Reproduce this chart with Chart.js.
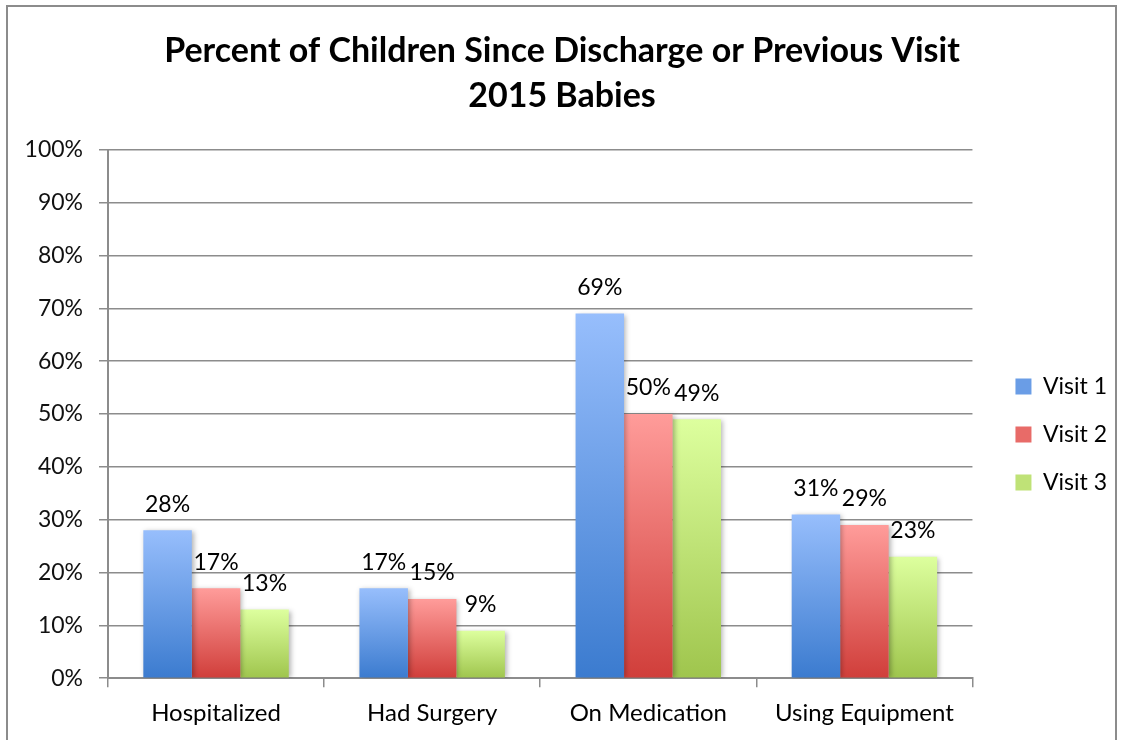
<!DOCTYPE html>
<html>
<head>
<meta charset="utf-8">
<script src="https://cdn.jsdelivr.net/npm/chart.js@4.4.1/dist/chart.umd.min.js"></script>
<style>
  body { margin: 0; background: #fff; }
  #wrap { position: relative; width: 1121px; height: 740px; overflow: hidden; }
  #frame { position: absolute; left: 6px; top: 5px; width: 1111px; height: 800px; border: 2px solid #8c8c8c; box-sizing: border-box; }
  canvas { position: absolute; left: 0; top: 0; }
</style>
</head>
<body>
<div id="wrap">
  <div id="frame"></div>
  <canvas id="visitChart" width="1121" height="740"></canvas>
</div>
<script>
const categories = ['Hospitalized', 'Had Surgery', 'On Medication', 'Using Equipment'];
const visitNames = ['Visit 1', 'Visit 2', 'Visit 3'];
const visit1 = [28, 17, 69, 31];
const visit2 = [17, 15, 50, 29];
const visit3 = [13, 9, 49, 23];
const titleLines = ['Percent of Children Since Discharge or Previous Visit', '2015 Babies'];

// light top -> dark bottom for each series
const shades = [
  { top: '#97befc', bottom: '#3b7bcf', solid: '#6a9de6' },
  { top: '#ff9c9a', bottom: '#d03e3a', solid: '#e86b68' },
  { top: '#ddff9e', bottom: '#9fc54d', solid: '#bfe277' }
];

const FONT = 'Lato, "Open Sans", sans-serif';

function barGradient(i) {
  return function (context) {
    const chart = context.chart;
    const { ctx, chartArea, scales } = chart;
    if (!chartArea || context.raw == null) return shades[i].solid;
    const yTop = scales.y.getPixelForValue(context.raw);
    const yBase = scales.y.getPixelForValue(0);
    if (!isFinite(yTop) || yTop === yBase) return shades[i].solid;
    const g = ctx.createLinearGradient(0, yTop, 0, yBase);
    g.addColorStop(0, shades[i].top);
    g.addColorStop(1, shades[i].bottom);
    return g;
  };
}

// soft drop shadow under the bars
const barShadow = {
  id: 'barShadow',
  beforeDatasetsDraw(chart) {
    const ctx = chart.ctx;
    ctx.save();
    ctx.shadowColor = 'rgba(0,0,0,0.3)';
    ctx.shadowBlur = 5;
    ctx.shadowOffsetX = 2;
    ctx.shadowOffsetY = 1;
  },
  afterDatasetsDraw(chart) {
    chart.ctx.restore();
  }
};

// percent labels above each bar
const valueLabels = {
  id: 'valueLabels',
  afterDatasetsDraw(chart) {
    const ctx = chart.ctx;
    ctx.save();
    ctx.font = '23px ' + FONT;
    ctx.fillStyle = '#000';
    ctx.textAlign = 'center';
    ctx.textBaseline = 'middle';
    chart.data.datasets.forEach((ds, i) => {
      chart.getDatasetMeta(i).data.forEach((bar, j) => {
        ctx.fillText(ds.data[j] + '%', bar.x, bar.y - 26);
      });
    });
    ctx.restore();
  }
};

// push the legend column a bit right and down from where the layout puts it
const legendNudge = {
  id: 'legendNudge',
  afterLayout(chart) {
    const lg = chart.legend;
    if (!lg) return;
    lg.left += 18; lg.right += 18;
    lg.top += 50; lg.bottom += 50;
  }
};

const seriesData = [visit1, visit2, visit3];

new Chart(document.getElementById('visitChart'), {
  type: 'bar',
  data: {
    labels: categories,
    datasets: visitNames.map((name, i) => ({
      label: name,
      data: seriesData[i],
      backgroundColor: barGradient(i),
      borderWidth: 0,
      categoryPercentage: 0.673,
      barPercentage: 1.0
    }))
  },
  options: {
    responsive: false,
    animation: false,
    layout: { padding: { left: 25, top: 29, right: 22, bottom: 0 } },
    plugins: {
      title: {
        display: true,
        text: titleLines,
        color: '#000',
        font: { family: FONT, size: 34, weight: 'bold', lineHeight: 1.32 },
        padding: { top: 0, bottom: 31 }
      },
      legend: {
        position: 'right',
        labels: {
          color: '#000',
          font: { family: FONT, size: 23 },
          boxWidth: 16,
          boxHeight: 16,
          padding: 25,
          generateLabels(chart) {
            return chart.data.datasets.map((ds, i) => ({
              text: ds.label,
              fillStyle: shades[i].solid,
              strokeStyle: shades[i].solid,
              lineWidth: 0,
              datasetIndex: i
            }));
          }
        }
      },
      tooltip: { enabled: false }
    },
    scales: {
      x: {
        grid: { drawOnChartArea: false, color: '#8c8c8c', lineWidth: 1.5, tickLength: 9, offset: true },
        border: { color: '#8c8c8c', width: 2 },
        ticks: { color: '#000', font: { family: FONT, size: 24 }, padding: 12 }
      },
      y: {
        min: 0,
        max: 100,
        afterFit(scale) { scale.width = 83; },
        grid: { color: '#8c8c8c', lineWidth: 1.5, tickLength: 9 },
        border: { color: '#8c8c8c', width: 2 },
        ticks: {
          stepSize: 10,
          color: '#111',
          padding: 16,
          font: { family: FONT, size: 23 },
          callback: v => v + '%'
        }
      }
    }
  },
  plugins: [barShadow, valueLabels, legendNudge]
});
</script>
</body>
</html>
